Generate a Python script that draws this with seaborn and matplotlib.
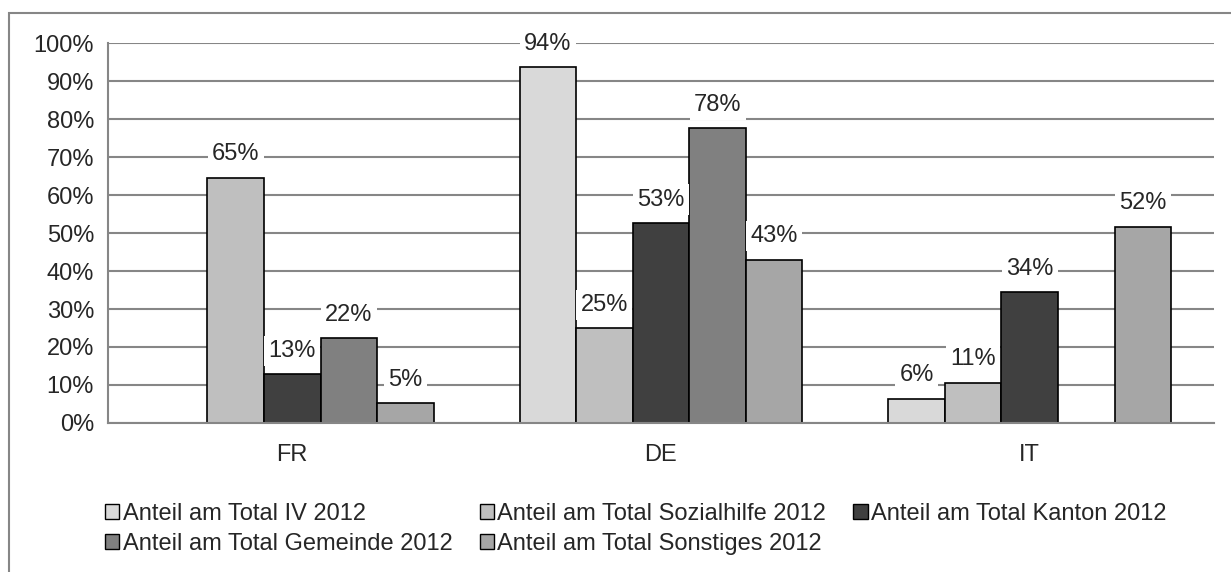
import numpy as np
import pandas as pd
import seaborn as sns
from matplotlib import pyplot as plt
from matplotlib.patches import Rectangle, Patch

regions = ["FR", "DE", "IT"]
series = [
    "Anteil am Total IV 2012",
    "Anteil am Total Sozialhilfe 2012",
    "Anteil am Total Kanton 2012",
    "Anteil am Total Gemeinde 2012",
    "Anteil am Total Sonstiges 2012",
]
iv = [np.nan, 93.6, 6.3]
sozialhilfe = [64.6, 24.9, 10.6]
kanton = [12.8, 52.6, 34.4]
gemeinde = [22.3, 77.6, np.nan]
sonstiges = [5.2, 43.0, 51.7]
colors = ["#d9d9d9", "#bfbfbf", "#404040", "#808080", "#a6a6a6"]

values = [iv, sozialhilfe, kanton, gemeinde, sonstiges]
df = pd.DataFrame(
    [(r, s, v[i]) for s, v in zip(series, values) for i, r in enumerate(regions)],
    columns=["region", "serie", "wert"],
)

sns.set_style("white")
plt.rcParams["font.family"] = ["Liberation Sans", "DejaVu Sans"]
grid_col = "#868686"
fs = 17

fig = plt.figure(figsize=(12.31, 5.72), dpi=100)
ax = fig.add_axes([0.0877, 0.2605, 0.8985, 0.6643])

sns.barplot(
    data=df, x="region", y="wert", hue="serie",
    order=regions, hue_order=series, palette=colors,
    width=0.767, gap=0, edgecolor="black", linewidth=1.2,
    legend=False, ax=ax, zorder=2,
)

ax.set_ylim(0, 100)
ax.set_xlim(-0.5, 2.5)
ax.set_yticks(np.arange(0, 101, 10))
ax.set_yticklabels([f"{t}%" for t in range(0, 101, 10)], fontsize=fs)
ax.yaxis.grid(True, color=grid_col, linewidth=1.5, zorder=0)
ax.set_axisbelow(True)
ax.set_xlabel("")
ax.set_ylabel("")

# category ticks at group boundaries, labels at centres
ax.set_xticks([-0.5, 0.5, 1.5, 2.5])
ax.set_xticklabels([])
ax.set_xticks([0, 1, 2], minor=True)
ax.set_xticklabels(regions, minor=True, fontsize=fs)
ax.tick_params(axis="x", which="major", length=6, width=1.2, color=grid_col, direction="out")
ax.tick_params(axis="x", which="minor", length=0, pad=15)
ax.tick_params(axis="y", length=6, width=1.2, color=grid_col, direction="out", pad=4)

for side in ["top", "right"]:
    ax.spines[side].set_visible(False)
for side in ["left", "bottom"]:
    ax.spines[side].set_color(grid_col)
    ax.spines[side].set_linewidth(1.5)

# value labels with white boxes
n = len(series)
bw = 0.767 / n
for j, vals in enumerate(values):
    for i, v in enumerate(vals):
        if np.isnan(v):
            continue
        x = i - 0.767 / 2 + bw * (j + 0.5)
        ax.text(x, v + 6.2, f"{v:.0f}%", ha="center", va="center", fontsize=fs,
                zorder=5, bbox=dict(facecolor="white", edgecolor="none", pad=3))

# legend, row order as in the reference
handles = [Patch(facecolor=c, edgecolor="black", linewidth=1.0) for c in colors]
order = [0, 3, 1, 4, 2]
fig.legend(
    [handles[k] for k in order], [series[k] for k in order],
    ncol=3, loc="upper left", bbox_to_anchor=(105 / 1231, 1 - 503 / 572),
    frameon=False, fontsize=fs, handlelength=0.6, handleheight=0.6,
    handletextpad=0.15, columnspacing=1.15, labelspacing=0.35, borderpad=0,
    borderaxespad=0,
)

# outer chart frame
fig.patches.append(Rectangle((9 / 1231, -0.05), 1.1, 1 - 13 / 572 + 0.05,
                             transform=fig.transFigure, fill=False,
                             edgecolor=grid_col, linewidth=1.5))

plt.savefig("out.png", dpi=100)
